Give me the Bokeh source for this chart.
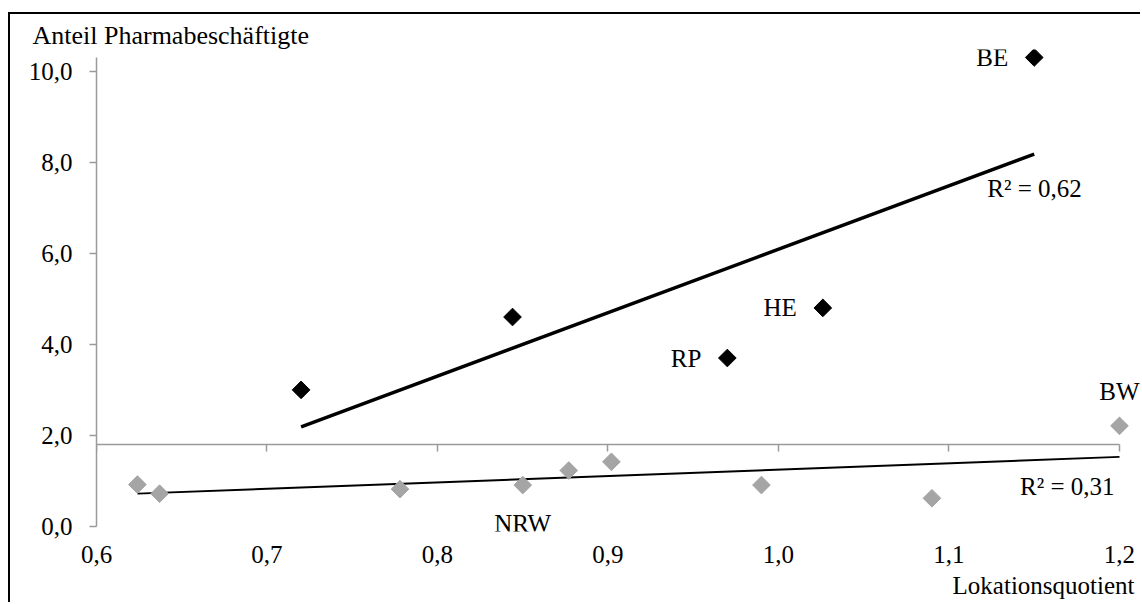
import numpy as np
from bokeh.plotting import figure
from bokeh.models import LinearAxis, FixedTicker, Range1d, Label, Title
from bokeh.embed import file_html
from bokeh.resources import INLINE

# ---------------- data ----------------
hi_names = ["", "", "RP", "HE", "BE"]
hi_lq = [0.720, 0.844, 0.970, 1.026, 1.150]
hi_share = [3.0, 4.6, 3.7, 4.8, 10.3]

lo_names = ["", "", "", "NRW", "", "", "", "", "BW"]
lo_lq = [0.624, 0.637, 0.778, 0.850, 0.877, 0.902, 0.990, 1.090, 1.200]
lo_share = [0.92, 0.72, 0.82, 0.91, 1.23, 1.42, 0.91, 0.62, 2.21]

r2_labels = ["R\u00b2 = 0,62", "R\u00b2 = 0,31"]

x_ticks = [0.6, 0.7, 0.8, 0.9, 1.0, 1.1, 1.2]
x_tick_labels = ["0,6", "0,7", "0,8", "0,9", "1,0", "1,1", "1,2"]
y_ticks = [0, 2, 4, 6, 8, 10]
y_tick_labels = ["0,0", "2,0", "4,0", "6,0", "8,0", "10,0"]
x_title = "Lokationsquotient"
y_title = "Anteil Pharmabeschäftigte"

# ---------------- style ----------------
FONT = "Liberation Serif"
FS = "25px"
FS_YT = "26px"
BLACK = "#000000"
GRAY = "#A5A5A5"
AXIS = "#9A9A9A"
X_CROSS = 1.8
X_LIMITS = (0.6, 1.2)
Y_LIMITS = (0.0, 10.3)

p = figure(width=1132, height=590,
           x_range=Range1d(0.6, 1.2135), y_range=Range1d(-0.11, 10.475),
           x_axis_location=None, y_axis_location=None,
           toolbar_location=None, output_backend="svg",
           min_border_left=86, min_border_right=0,
           min_border_top=35, min_border_bottom=72)
p.grid.visible = False
p.outline_line_color = None
p.background_fill_color = "white"
p.border_fill_color = "white"
p.styles = {"position": "relative", "top": "14px", "left": "10px",
            "box-shadow": "-2px -2px 0 0 #000"}

# ---------------- axes ----------------
yaxis = LinearAxis(ticker=FixedTicker(ticks=y_ticks), bounds=Y_LIMITS,
                   major_label_overrides={t: l for t, l in zip(y_ticks, y_tick_labels)},
                   axis_line_color=AXIS, axis_line_width=1.5,
                   major_tick_line_color=AXIS, major_tick_line_width=1.5,
                   major_tick_out=7, major_tick_in=0, minor_tick_line_color=None,
                   major_label_standoff=17,
                   major_label_text_font=FONT, major_label_text_font_size=FS,
                   major_label_text_color=BLACK)
p.add_layout(yaxis, "left")

# tick labels of the x axis (at the bottom, like Excel's "low" labels)
xaxis_lab = LinearAxis(ticker=FixedTicker(ticks=x_ticks), bounds=X_LIMITS,
                       major_label_overrides={t: l for t, l in zip(x_ticks, x_tick_labels)},
                       axis_line_color=None, major_tick_line_color=None,
                       minor_tick_line_color=None, major_tick_out=0, major_tick_in=0,
                       major_label_standoff=14,
                       major_label_text_font=FONT, major_label_text_font_size=FS,
                       major_label_text_color=BLACK)
p.add_layout(xaxis_lab, "below")

# x axis line crossing the y axis at 1.8, ticks pointing down
xaxis_line = LinearAxis(ticker=FixedTicker(ticks=x_ticks), bounds=X_LIMITS,
                        fixed_location=X_CROSS,
                        axis_line_color=AXIS, axis_line_width=1.5,
                        major_tick_line_color=AXIS, major_tick_line_width=1.5,
                        major_tick_out=0, major_tick_in=7, minor_tick_line_color=None,
                        major_label_standoff=0, major_label_text_color=None)
p.add_layout(xaxis_line, "above")

# axis titles
p.add_layout(Title(text=y_title, align="left", offset=-64, standoff=0,
                   vertical_align="bottom", text_font=FONT, text_font_size=FS_YT,
                   text_font_style="normal", text_color=BLACK), "above")
p.add_layout(Title(text=x_title, align="right", offset=8, standoff=10,
                   vertical_align="middle", text_font=FONT, text_font_size=FS,
                   text_font_style="normal", text_color=BLACK), "below")

# ---------------- trend lines ----------------
def trend(xs, ys):
    m, b = np.polyfit(xs, ys, 1)
    x0, x1 = min(xs), max(xs)
    return [x0, x1], [m * x0 + b, m * x1 + b]

tx_hi, ty_hi = trend(hi_lq, hi_share)
tx_lo, ty_lo = trend(lo_lq, lo_share)
p.line(tx_hi, ty_hi, line_color=BLACK, line_width=3.4)
p.line(tx_lo, ty_lo, line_color=BLACK, line_width=1.9)

# ---------------- points ----------------
p.scatter(lo_lq, lo_share, marker="square", angle=np.pi / 4, size=12.5,
          fill_color=GRAY, line_color=GRAY)
p.scatter(hi_lq, hi_share, marker="square", angle=np.pi / 4, size=12.5,
          fill_color=BLACK, line_color=BLACK)

txt = dict(text_font=FONT, text_font_size=FS, text_color=BLACK)

# point labels (offsets in screen px; positive y_offset = up)
hi_label_pos = {"RP": (-26, 0, "right", "middle"),
                "HE": (-26, 0, "right", "middle"),
                "BE": (-26, 0, "right", "middle")}
lo_label_pos = {"NRW": (0, -38, "center", "middle"),
                "BW": (0, 34, "center", "middle")}
for names, xs, ys, pos in ((hi_names, hi_lq, hi_share, hi_label_pos),
                           (lo_names, lo_lq, lo_share, lo_label_pos)):
    for n, xv, yv in zip(names, xs, ys):
        if n:
            dx, dy, al, bl = pos[n]
            p.add_layout(Label(x=xv, y=yv, text=n, x_offset=dx, y_offset=dy,
                               text_align=al, text_baseline=bl, **txt))

# R² labels near trend line ends
p.add_layout(Label(x=tx_hi[1], y=ty_hi[1], text=r2_labels[0], x_offset=-47, y_offset=-34,
                   text_align="left", text_baseline="middle", **txt))
p.add_layout(Label(x=tx_lo[1], y=ty_lo[1], text=r2_labels[1], x_offset=-5, y_offset=-30,
                   text_align="right", text_baseline="middle", **txt))

open("out.html", "w").write(file_html(p, INLINE))
